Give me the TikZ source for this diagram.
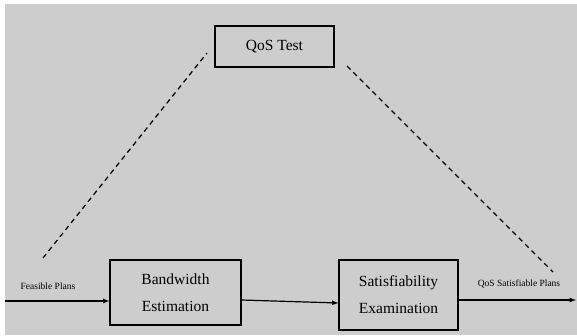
\documentclass[tikz,border=0pt]{standalone}
\usepackage{fontspec}
\setmainfont{Liberation Serif}
\definecolor{bggray}{RGB}{205,205,205}
\begin{document}
\begin{tikzpicture}[>=latex, x=1pt, y=-1pt,
  block/.style={draw, line width=1.1pt, align=center, inner sep=0pt,
    font=\fontsize{15.5}{27}\selectfont},
  flow/.style={->, line width=1.2pt},
  link/.style={line width=1.3pt, dash pattern=on 5pt off 4pt},
  lbl/.style={font=\fontsize{9.5}{11}\selectfont}]
\useasboundingbox (0,0) rectangle (577,335);
\fill[white] (0,0) rectangle (577,335);
\fill[bggray] (5,4) rectangle (577,335);
% blocks
\node[block, minimum width=119pt, minimum height=41pt] (qos) at (274.5,46.5) {QoS Test};
\node[block, minimum width=131pt, minimum height=65pt] (bw) at (175.5,292.5) {Bandwidth\\Estimation};
\node[block, minimum width=119pt, minimum height=70pt] (sat) at (398.5,295) {Satisfiability\\Examination};
% labels
\node[lbl] (fp) at (48,286) {Feasible Plans};
\node[lbl] (qsp) at (519,284) {QoS Satisfiable Plans};
% flow
\coordinate (in) at (5,301);
\coordinate (out) at (576,300);
\draw[flow] (in) -- (in -| bw.west);
\draw[flow] ([yshift=-7.5pt]bw.east) -- ([yshift=-8pt]sat.west);
\draw[flow] (sat.east |- out) -- (out);
% dashed links to the test
\coordinate (l1) at (43,258);
\coordinate (l2) at (207,53);
\coordinate (r1) at (347,66);
\coordinate (r2) at (553,272);
\draw[link] (l1) -- (l2);
\draw[link] (r1) -- (r2);
\end{tikzpicture}
\end{document}
